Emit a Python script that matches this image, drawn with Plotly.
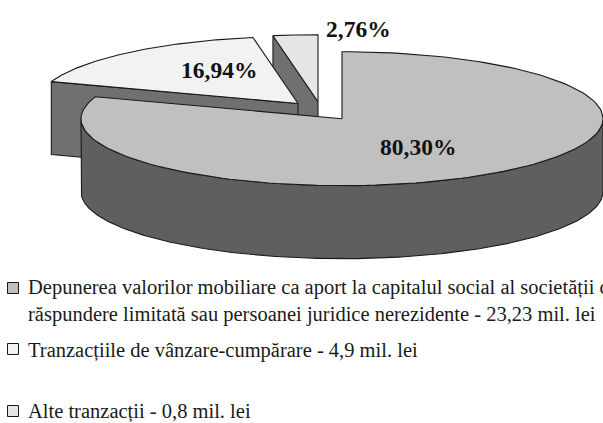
import numpy as np
import plotly.graph_objects as go

# ---- data -------------------------------------------------------------
shares = [80.30, 16.94, 2.76]
share_labels = ["80,30%", "16,94%", "2,76%"]
legend_lines = [
    "Depunerea valorilor mobiliare ca aport la capitalul social al societății cu<br>răspundere limitată sau persoanei juridice nerezidente - 23,23 mil. lei",
    "Tranzacțiile de vânzare-cumpărare - 4,9 mil. lei",
    "Alte tranzacții - 0,8 mil. lei",
]
top_colors = ["#c0c0c0", "#f2f2f2", "#e6e6e6"]
side_colors = ["#5f5f5f", "#707070", "#707070"]

# ---- layout of the drawing (pixel-like axis units) ----------------------
W, H = 603, 423
RX, RY = 261, 67
DEPTH = 73
centers = [(342, 118.7), (298, 103.5), (318, 101.7)]
label_pos = [(418, 147), (219, 70), (358, 29)]
legend_y = [288, 349, 411]
legend_text_y = [301, 350.5, 411.5]

edges = np.cumsum([0] + shares) / 100 * 360


def pt(c, t):
    r = np.radians(t)
    return c[0] + RX * np.sin(r), c[1] - RY * np.cos(r)


fig = go.Figure()


def poly(xs, ys, fill, width=1.1):
    fig.add_trace(go.Scatter(x=list(xs), y=list(ys), mode="lines", fill="toself", fillcolor=fill,
                             line=dict(color="#1a1a1a", width=width), hoverinfo="skip", showlegend=False))


def wedge(c, t0, t1):
    ts = np.linspace(t0, t1, 160)
    x, y = pt(c, ts)
    return np.r_[c[0], x, c[0]], np.r_[c[1], y, c[1]]


def cut_face(c, t):
    x, y = pt(c, t)
    return [c[0], x, x, c[0], c[0]], [c[1], y, y + DEPTH, c[1] + DEPTH, c[1]]


# Slice 3 (back)
poly(*cut_face(centers[2], edges[2]), side_colors[2])
poly(*wedge(centers[2], edges[2], edges[3]), top_colors[2])

# Slice 2
poly(*cut_face(centers[1], edges[1]), side_colors[1])
poly(*wedge(centers[1], edges[1], edges[2]), top_colors[1])

# Main slice: rim then top
ts = np.linspace(90, 270, 240)
xt, yt = pt(centers[0], ts)
poly(np.r_[xt, xt[::-1], xt[0]], np.r_[yt, yt[::-1] + DEPTH, yt[0]], side_colors[0])
poly(*wedge(centers[0], edges[0], edges[1]), top_colors[0])

# Percent labels
for (x, y), txt in zip(label_pos, share_labels):
    fig.add_annotation(x=x, y=y, text=f"<b>{txt}</b>", showarrow=False, xanchor="center", yanchor="middle",
                       font=dict(family="Liberation Serif", size=23.5, color="#111111"))

# Legend
fig.add_trace(go.Scatter(x=[13] * 3, y=legend_y, mode="markers", hoverinfo="skip", showlegend=False,
                         marker=dict(symbol="square", size=11, color=top_colors,
                                     line=dict(color="#1a1a1a", width=1))))
for y, txt in zip(legend_text_y, legend_lines):
    fig.add_annotation(x=26, y=y, text=txt, showarrow=False, xanchor="left", yanchor="middle", align="left",
                       font=dict(family="Liberation Serif", size=20.5, color="#1a1a1a"))

fig.update_layout(width=W, height=H, margin=dict(l=0, r=0, t=0, b=0), paper_bgcolor="white",
                  plot_bgcolor="white", showlegend=False,
                  xaxis=dict(range=[0, W], visible=False, fixedrange=True),
                  yaxis=dict(range=[H, 0], visible=False, fixedrange=True))
fig.write_html("out.html", config={"displayModeBar": False},
               post_script="document.body.style.margin='0';document.body.style.overflow='hidden';")
